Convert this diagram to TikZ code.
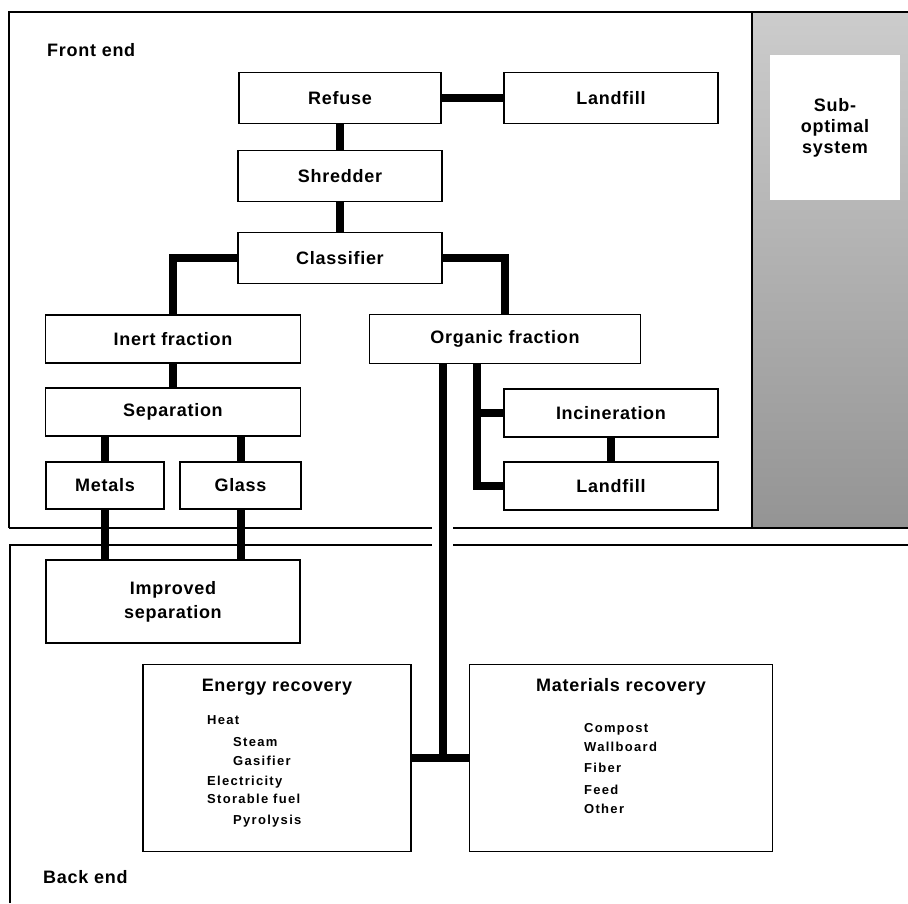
\documentclass[tikz,border=0pt]{standalone}
\usepackage{fontspec}
\setsansfont{Liberation Sans}[LetterSpace=4]
\newfontfamily\itemfont{Liberation Sans}[LetterSpace=10]

\begin{document}
\begin{tikzpicture}[x=1pt,y=-1pt,node distance=80pt,
    box/.style={draw,line width=1.6pt,rectangle,inner sep=2pt,font=\sffamily\bfseries\fontsize{18}{24}\selectfont},
    heading/.style={inner sep=0pt,font=\sffamily\bfseries\fontsize{18}{24}\selectfont},
    item/.style={anchor=west,inner sep=0pt,text height=9.5pt,text depth=0pt,font=\itemfont\bfseries\fontsize{13}{16}\selectfont},
    link/.style={line width=8pt},
    panel/.style={line width=1.2pt}]
    \useasboundingbox (0,0) rectangle (908,903);

    % front end and back end panels
    \fill[top color=black!20,bottom color=black!42] (752,12) rectangle (908,528);
    \draw[panel] (9,528) -- (9,12) -- (908,12);
    \draw[panel] (9,528) -- (432,528);
    \draw[panel] (453,528) -- (908,528);
    \draw[line width=2pt] (752,12) -- (752,528) -- (908,528);
    \draw[panel] (10,903) -- (10,545) -- (432,545);
    \draw[panel] (453,545) -- (908,545);
    \node[heading,anchor=west] (frontend) at (47,50) {Front end};
    \node[heading,anchor=west] (backend) at (43,877) {Back end};

    \node[fill=white,minimum width=130pt,minimum height=145pt,align=center,
          font=\sffamily\bfseries\fontsize{18}{21}\selectfont] (suboptimal) at (835,127.5) {Sub-\\optimal\\system};

    \node[box,minimum width=202pt,minimum height=51pt] (refuse) at (340,98) {Refuse};
    \node[box,minimum width=214pt,minimum height=51pt] (landfill) [right of=refuse,node distance=271pt] {Landfill};
    \node[box,minimum width=204pt,minimum height=51pt] (shredder) [below of=refuse,node distance=78pt] {Shredder};
    \node[box,minimum width=204pt,minimum height=51pt] (classifier) [below of=shredder,node distance=82pt] {Classifier};
    \node[box,minimum width=255pt,minimum height=48pt] (inert) at (173,339) {Inert fraction};
    \node[box,minimum width=271pt,minimum height=49pt] (organic) at (505,339) {Organic fraction};
    \node[box,minimum width=255pt,minimum height=48pt] (separation) [below of=inert,node distance=73pt] {Separation};
    \node[box,minimum width=118pt,minimum height=47pt] (metals) at (105,485.5) {Metals};
    \node[box,minimum width=121pt,minimum height=47pt] (glass) [right of=metals,node distance=135.5pt] {Glass};
    \node[box,minimum width=214pt,minimum height=48pt] (incineration) at (611,413) {Incineration};
    \node[box,minimum width=214pt,minimum height=48pt] (landfilltwo) [below of=incineration,node distance=73pt] {Landfill};
    \node[box,minimum width=254pt,minimum height=83pt,align=center] (improved) at (173,601.5) {Improved\\separation};
    \node[box,minimum width=268pt,minimum height=187pt] (energy) at (277,758) {};
    \node[box,minimum width=303pt,minimum height=187pt] (materials) [right of=energy,node distance=344pt] {};
    \node[heading] (energyhead) at (277,687) {Energy recovery};
    \node[heading] (materialshead) at (621,687) {Materials recovery};

    \foreach \n/\x/\y/\t in {1/207/720/Heat, 2/233/742/Steam, 3/233/761/Gasifier,
                             4/207/781/Electricity, 5/207/799/Storable fuel, 6/233/820/Pyrolysis}
        \node[item] (energy\n) at (\x,\y) {\t};
    \foreach \n/\y/\t in {1/728/Compost, 2/747/Wallboard, 3/768/Fiber, 4/790/Feed, 5/809/Other}
        \node[item] (materials\n) at (584,\y) {\t};

    \coordinate (fork) at (477,413);
    \coordinate (hub) at (443,758);

    \draw[link] (refuse) -- (landfill);
    \draw[link] (refuse) -- (shredder);
    \draw[link] (shredder) -- (classifier);
    \draw[link] (classifier) -| (inert);
    \draw[link] (classifier) -| (organic);
    \draw[link] (inert) -- (separation);
    \draw[link] (separation.south -| metals) -- (metals);
    \draw[link] (separation.south -| glass) -- (glass);
    \draw[link] (metals) -- (metals |- improved.north);
    \draw[link] (glass) -- (glass |- improved.north);
    \draw[link] (organic.south -| fork) |- (landfilltwo);
    \draw[link] (fork) -- (incineration);
    \draw[link] (incineration) -- (landfilltwo);
    \draw[link] (organic.south -| hub) -- (hub);
    \draw[link] (energy) -- (materials);
\end{tikzpicture}
\end{document}
